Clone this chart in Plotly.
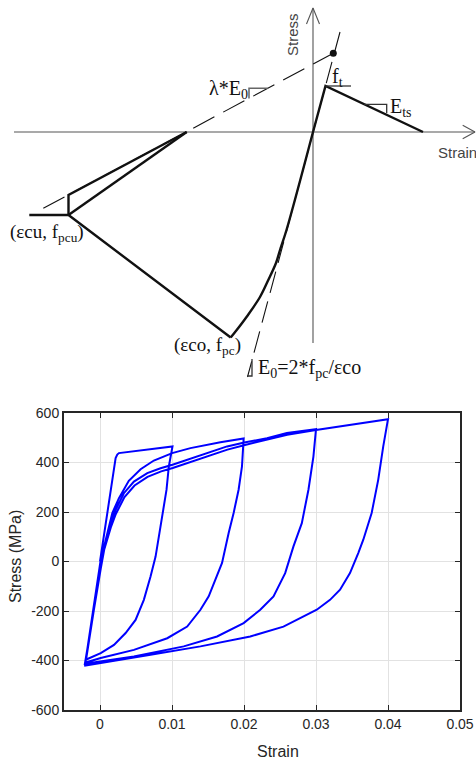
import plotly.graph_objects as go

# ---------------- Hysteresis data (strain, stress MPa) ----------------
load1_strain = [0.0, 0.00217, 0.0024, 0.00263, 0.01007]
load1_stress = [0, 418, 432, 438, 465]

unload1_strain = [0.00956, 0.00924, 0.00878, 0.00831, 0.00772, 0.00702, 0.00609, 0.00494, 0.00356, 0.00194, 0.0001, -0.00198]
unload1_stress = [384, 290, 209, 115, 20, -61, -155, -236, -289, -337, -370, -397]

reload2_strain = [0.0001, 0.0008, 0.00171, 0.00263, 0.0040, 0.00564, 0.00748, 0.01002, 0.01256, 0.01672, 0.01995]
reload2_stress = [7, 88, 196, 256, 326, 373, 408, 438, 458, 482, 497]

unload2_strain = [0.01972, 0.01925, 0.01856, 0.01787, 0.01695, 0.01603, 0.0151, 0.01395, 0.01211, 0.00934, 0.00471, 0.0001, -0.002]
unload2_stress = [384, 290, 196, 115, -6, -74, -141, -195, -263, -310, -357, -390, -408]

reload3_strain = [0.0001, 0.00055, 0.00148, 0.00217, 0.00332, 0.00471, 0.00657, 0.00841, 0.01007, 0.0121, 0.01488, 0.01765, 0.02004, 0.02319, 0.02596, 0.030]
reload3_stress = [-20, 61, 155, 209, 276, 323, 357, 377, 391, 411, 438, 465, 481, 498, 519, 535]

unload3_strain = [0.02964, 0.02895, 0.02803, 0.02687, 0.02572, 0.0241, 0.02226, 0.01995, 0.01626, 0.01163, 0.00471, -0.0021]
unload3_stress = [424, 290, 155, 61, -47, -141, -195, -249, -303, -343, -384, -413]

reload4_strain = [0.0001, 0.0006, 0.0015, 0.0022, 0.0034, 0.0048, 0.0066, 0.0085, 0.0101, 0.0121, 0.0149, 0.0177, 0.020, 0.0232, 0.026, 0.030, 0.035, 0.040]
reload4_stress = [-30, 50, 138, 192, 260, 307, 342, 364, 378, 398, 426, 452, 470, 492, 512, 531, 553, 575]

unload4_strain = [0.03934, 0.03864, 0.03773, 0.03657, 0.03587, 0.03472, 0.03334, 0.03195, 0.03011, 0.0278, 0.02548, 0.02087, 0.01395, 0.00702, -0.0022]
unload4_stress = [465, 330, 196, 88, 34, -47, -114, -155, -195, -229, -263, -303, -343, -377, -421]

x_tick_vals = [0, 0.01, 0.02, 0.03, 0.04, 0.05]
x_tick_text = ["0", "0.01", "0.02", "0.03", "0.04", "0.05"]
y_tick_vals = [-600, -400, -200, 0, 200, 400, 600]
y_tick_text = ["-600", "-400", "-200", "0", "200", "400", "600"]

# ---------------- Schematic data (schematic units) ----------------
h_axis_x = [-299, 162]
h_axis_y = [0, 0]
h_arrow_x = [149.7, 162, 149.7]
h_arrow_y = [6.7, 0, -6.7]
v_axis_x = [0, 0]
v_axis_y = [-211, 124]
v_arrow_x = [-6.5, 0, 6.5]
v_arrow_y = [108, 124, 108]

tension_x = [0, 12.5, 110]
tension_y = [0, 46, 0]

comp_curve_x = [0, -26.5, -33, -37, -44.7, -53, -66.3, -76.3, -82.3]
comp_curve_y = [0, -98, -118, -131, -148, -165, -184.7, -198, -205.5]
soft_x = [-82.3, -244.5, -283.7]
soft_y = [-205.5, -83, -83]

unl_low_x = [-244.5, -126.3]
unl_low_y = [-83, 0]
unl_up_x = [-244.5, -244.5, -126.3]
unl_up_y = [-83, -63, 0]

lam_line_x = [-269.7, 20.3]
lam_line_y = [-76.3, 78.7]
e0_line_x = [27, -65.5]
e0_line_y = [100, -245]

peak_dot_x = [20.3]
peak_dot_y = [78.7]

lam_tri_x = [-45.2, -64, -64]
lam_tri_y = [43.7, 43.7, 33.6]
ets_tri_x = [51.3, 73.7, 73.7]
ets_tri_y = [27.7, 27.7, 18.7]
e0_tri_x = [-61, -61, -66]
e0_tri_y = [-227, -244, -244]
ft_mark_x = [12.5, 38]
ft_mark_y = [46, 46]

fig = go.Figure()

hyst_x = (load1_strain + unload1_strain + reload2_strain + unload2_strain
          + reload3_strain + unload3_strain + reload4_strain + unload4_strain)
hyst_y = (load1_stress + unload1_stress + reload2_stress + unload2_stress
          + reload3_stress + unload3_stress + reload4_stress + unload4_stress)
fig.add_trace(go.Scatter(x=hyst_x, y=hyst_y, mode="lines",
                         line=dict(color="#0000ff", width=2),
                         xaxis="x", yaxis="y", showlegend=False, hoverinfo="skip"))

def seg(xs, ys, color="#111111", width=2.4, dash=None, shape="linear"):
    fig.add_trace(go.Scatter(x=xs, y=ys, mode="lines",
                             line=dict(color=color, width=width, dash=dash, shape=shape),
                             xaxis="x2", yaxis="y2", showlegend=False, hoverinfo="skip"))

axc = "#555555"
seg(h_axis_x, h_axis_y, axc, 1.1)
seg(h_arrow_x, h_arrow_y, axc, 1.1)
seg(v_axis_x, v_axis_y, axc, 1.1)
seg(v_arrow_x, v_arrow_y, axc, 1.1)
seg(lam_line_x, lam_line_y, "#111111", 1.1, "24px,10px")
seg(e0_line_x, e0_line_y, "#111111", 1.1, "22px,9px")
seg(tension_x, tension_y)
seg(comp_curve_x, comp_curve_y, shape="spline")
seg(soft_x, soft_y)
seg(unl_low_x, unl_low_y)
seg(unl_up_x, unl_up_y)
seg(lam_tri_x, lam_tri_y, "#666666", 1.5)
seg(ets_tri_x, ets_tri_y, "#333333", 1.3)
seg(e0_tri_x, e0_tri_y, "#333333", 1.3)
seg(ft_mark_x, ft_mark_y, "#333333", 1.3)
fig.add_trace(go.Scatter(x=peak_dot_x, y=peak_dot_y, mode="markers",
                         marker=dict(color="#111111", size=7),
                         xaxis="x2", yaxis="y2", showlegend=False, hoverinfo="skip"))

serif = "Liberation Serif, Times New Roman, serif"
sans = "Liberation Sans, Arial, sans-serif"
W, H = 476, 761

annotations = []
def sch_text(text, x, y, xanchor="center", yanchor="middle", size=20, family=serif, angle=0, color="#111111"):
    annotations.append(dict(text=text, x=x, y=y, xref="x2", yref="y2", showarrow=False,
                            xanchor=xanchor, yanchor=yanchor, textangle=angle,
                            font=dict(family=family, size=size, color=color)))

sch_text("Stress", -21, 97, angle=-90, size=15, family=sans, color="#444444")
sch_text("Strain", 123, -20, xanchor="left", size=15, family=sans, color="#444444")
sch_text("λ*E<sub>0</sub>", -63, 43, xanchor="right", size=20)
sch_text("f<sub>t</sub>", 17, 55, xanchor="left", size=20)
sch_text("E<sub>ts</sub>", 75, 25, xanchor="left", size=20)
sch_text("(εcu, f<sub>pcu</sub>)", -266, -101, xanchor="center", size=19)
sch_text("(εco, f<sub>pc</sub>)", -106, -214, xanchor="center", size=19)
sch_text("E<sub>0</sub>=2*f<sub>pc</sub>/εco", -57, -236, xanchor="left", size=20)

def paper_text(text, px, py, angle=0, size=16):
    annotations.append(dict(text=text, x=px / W, y=1 - py / H, xref="paper", yref="paper",
                            showarrow=False, xanchor="center", yanchor="middle", textangle=angle,
                            font=dict(family=sans, size=size, color="#262626")))

paper_text("Stress (MPa)", 15, 557, angle=-90)
paper_text("Strain", 278, 751)

axis_common = dict(ticks="inside", ticklen=5, tickwidth=1.3, tickcolor="#262626",
                   showline=True, linecolor="#262626", linewidth=2, mirror="ticks",
                   showgrid=True, gridcolor="#e2e2e2", gridwidth=1, zeroline=False,
                   automargin=False,
                   tickfont=dict(family=sans, size=14, color="#262626"))

fig.update_layout(
    width=W, height=H, margin=dict(l=0, r=0, t=0, b=0, pad=0, autoexpand=False),
    paper_bgcolor="white", plot_bgcolor="white",
    xaxis=dict(domain=[64 / W, 460 / W], range=[-0.005, 0.05], tickvals=x_tick_vals,
               ticktext=x_tick_text, anchor="y", **axis_common),
    yaxis=dict(domain=[(H - 710) / H, (H - 413) / H], range=[-600, 600], tickvals=y_tick_vals,
               ticktext=y_tick_text, anchor="x", **axis_common),
    xaxis2=dict(domain=[0, 1], range=[-313, 163], visible=False, anchor="y2", automargin=False),
    yaxis2=dict(domain=[(H - 380) / H, 1], range=[-248, 132], visible=False, anchor="x2", automargin=False),
    annotations=annotations,
)

fig.write_html("out.html", config={"displayModeBar": False},
               post_script="document.body.style.margin='0';document.body.style.overflow='hidden';")
